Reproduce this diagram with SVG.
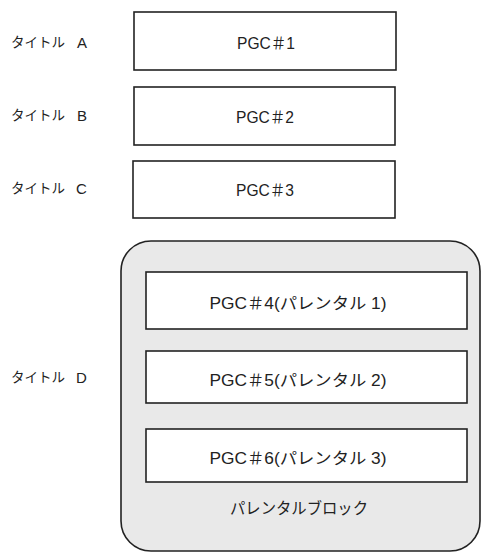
<svg xmlns="http://www.w3.org/2000/svg" width="482" height="553" viewBox="0 0 482 553">
<style>
.box{fill:#fff;stroke:#222;stroke-width:1.6}
.blk{fill:#e9e9e9;stroke:#222;stroke-width:1.6}
text{font-family:"Liberation Sans","Noto Sans CJK JP",sans-serif;font-size:16px;fill:#222;dominant-baseline:central}
.lbl{font-size:13.5px}
.ltr{font-size:15px}
.c{text-anchor:middle}
</style>
<rect width="482" height="553" fill="#fff"/>
<g id="titleA"><text class="lbl" x="11" y="42">タイトル<tspan class="ltr" x="77">A</tspan></text></g>
<g id="titleB"><text class="lbl" x="11" y="115">タイトル<tspan class="ltr" x="77">B</tspan></text></g>
<g id="titleC"><text class="lbl" x="11" y="188">タイトル<tspan class="ltr" x="76">C</tspan></text></g>
<g id="titleD"><text class="lbl" x="11" y="377">タイトル<tspan class="ltr" x="76">D</tspan></text></g>
<g id="pgc1"><rect class="box" x="134" y="12" width="262" height="58"/><text class="c" x="266" y="43" textLength="58" lengthAdjust="spacingAndGlyphs">PGC＃1</text></g>
<g id="pgc2"><rect class="box" x="134" y="87" width="261" height="58"/><text class="c" x="265" y="117" textLength="58" lengthAdjust="spacingAndGlyphs">PGC＃2</text></g>
<g id="pgc3"><rect class="box" x="133" y="161" width="262" height="57"/><text class="c" x="265" y="190" textLength="58" lengthAdjust="spacingAndGlyphs">PGC＃3</text></g>
<g id="parental">
<rect class="blk" x="121" y="241" width="359" height="310" rx="30" ry="30"/>
<text class="c" x="299" y="508" textLength="138" lengthAdjust="spacingAndGlyphs">パレンタルブロック</text>
</g>
<g id="pgc4"><rect class="box" x="146" y="272" width="321" height="57"/><text class="c" x="298" y="303" textLength="177" lengthAdjust="spacingAndGlyphs">PGC＃4(パレンタル 1)</text></g>
<g id="pgc5"><rect class="box" x="146" y="351" width="321" height="52"/><text class="c" x="298" y="380" textLength="177" lengthAdjust="spacingAndGlyphs">PGC＃5(パレンタル 2)</text></g>
<g id="pgc6"><rect class="box" x="146" y="429" width="321" height="53"/><text class="c" x="298" y="458" textLength="177" lengthAdjust="spacingAndGlyphs">PGC＃6(パレンタル 3)</text></g>
<g id="connectors"/>
</svg>
